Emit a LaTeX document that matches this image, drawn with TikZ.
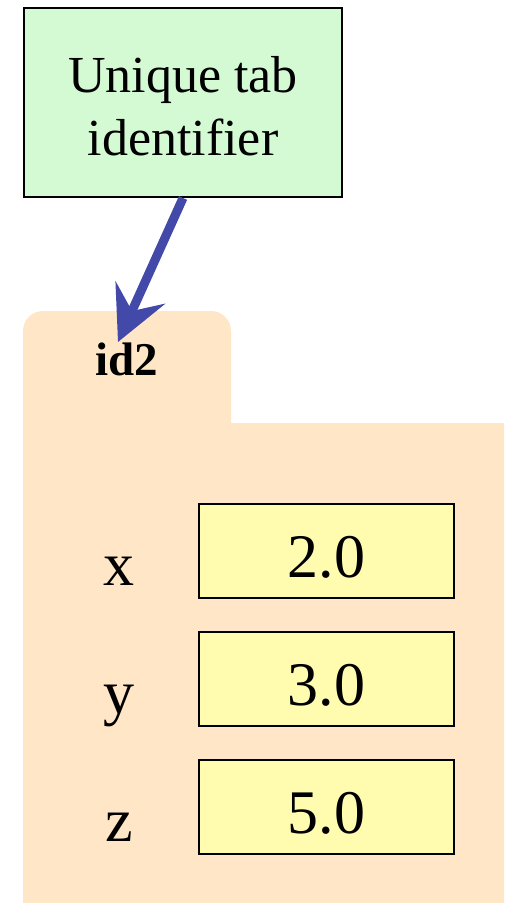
\documentclass[tikz,border=0pt]{standalone}
\usepackage{fontspec}
\setmainfont{Liberation Serif}
\usetikzlibrary{arrows.meta}
\definecolor{notegreen}{RGB}{212,250,212}
\definecolor{tabbeige}{RGB}{254,230,198}
\definecolor{valyellow}{RGB}{255,252,176}
\definecolor{arrowblue}{RGB}{67,73,168}
\begin{document}
\begin{tikzpicture}[x=1pt,y=-1pt,
  note/.style={draw,line width=2pt,fill=notegreen,minimum width=318pt,minimum height=189pt,align=center,font=\fontsize{52}{63}\selectfont},
  valbox/.style={draw,line width=2pt,fill=valyellow,minimum width=255pt,minimum height=94pt,inner sep=0pt,text height=52pt,text depth=0pt,font=\fontsize{62}{70}\selectfont},
  varname/.style={anchor=base,font=\fontsize{62}{70}\selectfont}]
\useasboundingbox (0,0) rectangle (504,903);

\def\tabfolder{(23,903) -- (23,331) arc (180:270:20) -- (211,311) arc (270:360:20) -- (231,423) -- (504,423) -- (504,903) -- cycle}
\fill[tabbeige] \tabfolder;
\node[anchor=base,font=\fontsize{47}{50}\selectfont\bfseries] (tabid) at (127,375) {id2};

\node[note] (note) at (183,102.5) {\rule{0pt}{44pt}Unique tab\\identifier};
\coordinate (tip) at (118,342);
\draw[arrowblue,line width=9pt,-{Stealth[length=54pt,width=54pt,inset=20pt]}] (note.south) -- (tip);

\node[valbox] (xval) at (326.5,551) {2.0};
\node[valbox] (yval) at (326.5,679) {3.0};
\node[valbox] (zval) at (326.5,807) {5.0};
\node[varname] (xname) at (119,585) {x};
\node[varname] (yname) at (119,713) {y};
\node[varname] (zname) at (119,841) {z};

\end{tikzpicture}
\end{document}
